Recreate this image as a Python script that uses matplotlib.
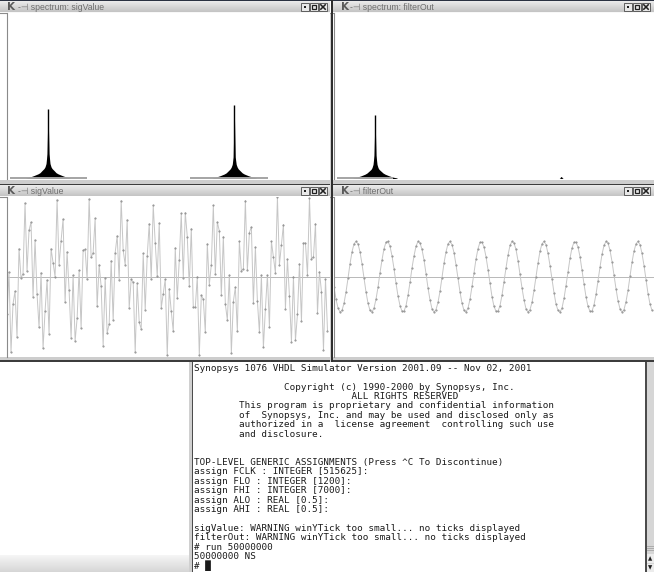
import numpy as np
import matplotlib.pyplot as plt
import matplotlib.colors as mcolors
from matplotlib.patches import Rectangle

W, H = 654, 572

# sigValue samples
sig_value = [
    -0.47, 0.06, -0.94, -0.34, -0.18, -0.75, 0.35, -0.02, 0.04, 0.92,
    0.07, 0.58, 0.68, -0.25, 0.46, -0.22, -0.63, 0.05, -0.89, -0.43,
    -0.04, -0.71, 0.35, 0.17, 0.00, 0.96, 0.15, 0.45, 0.72, -0.32,
    0.31, -0.17, -0.76, 0.02, -0.80, -0.52, 0.08, -0.64, 0.33, 0.34,
    -0.03, 0.97, 0.24, 0.30, 0.73, -0.37, 0.15, -0.12, -0.86, -0.02,
    -0.70, -0.59, 0.20, -0.54, 0.30, 0.51, -0.04, 0.95, 0.33, 0.15,
    0.71, -0.39, -0.03, -0.07, -0.94, -0.08, -0.57, -0.65, 0.29, -0.41,
    0.26, 0.66, -0.03, 0.89, 0.42, 0.01, 0.67, -0.39, -0.21, -0.03,
    -0.98, -0.15, -0.43, -0.68, 0.36, -0.27, 0.21, 0.79, -0.01, 0.80,
    0.50, -0.12, 0.60, -0.38, -0.38, 0.00, -0.98, -0.23, -0.28, -0.69,
    0.41, -0.10, 0.15, 0.89, 0.03, 0.68, 0.57, -0.23, 0.50, -0.34,
    -0.54, 0.02, -0.95, -0.31, -0.13, -0.68, 0.44, 0.07, 0.10, 0.95,
    0.08, 0.55, 0.62, -0.33, 0.37, -0.30, -0.69, 0.02, -0.88, -0.40,
    0.02, -0.63, 0.44, 0.25, 0.05, 0.99, 0.15, 0.40, 0.65, -0.40,
    0.22, -0.24, -0.81, 0.00, -0.79, -0.47, 0.16, -0.55, 0.42, 0.42,
    0.02, 0.98, 0.22, 0.25, 0.66, -0.45, 0.06, -0.19, -0.91, -0.03, -0.67,
]

# filterOut samples
filter_out = [
    -0.13, -0.28, -0.39, -0.44, -0.42, -0.33, -0.19, -0.02, 0.16, 0.31,
    0.41, 0.44, 0.41, 0.31, 0.16, -0.02, -0.19, -0.33, -0.42, -0.44,
    -0.39, -0.28, -0.13, 0.05, 0.21, 0.35, 0.43, 0.44, 0.38, 0.26,
    0.10, -0.08, -0.24, -0.36, -0.43, -0.43, -0.36, -0.23, -0.07, 0.11,
    0.26, 0.38, 0.44, 0.42, 0.34, 0.21, 0.04, -0.14, -0.29, -0.40,
    -0.44, -0.41, -0.32, -0.18, -0.01, 0.17, 0.31, 0.41, 0.44, 0.40,
    0.30, 0.15, -0.02, -0.19, -0.33, -0.42, -0.44, -0.39, -0.28, -0.12,
    0.05, 0.22, 0.35, 0.43, 0.43, 0.37, 0.25, 0.09, -0.08, -0.25,
    -0.37, -0.43, -0.43, -0.36, -0.23, -0.06, 0.11, 0.27, 0.39, 0.44,
    0.42, 0.34, 0.20, 0.03, -0.14, -0.29, -0.40, -0.44, -0.41, -0.32,
    -0.17, 0.00, 0.17, 0.32, 0.41, 0.44, 0.40, 0.29, 0.14, -0.03,
    -0.20, -0.34, -0.42, -0.44, -0.39, -0.27, -0.11, 0.06, 0.23, 0.36,
    0.43, 0.43, 0.37, 0.25, 0.08, -0.09, -0.25, -0.37, -0.43, -0.43,
    -0.35, -0.22, -0.05, 0.12, 0.28, 0.39, 0.44, 0.42, 0.33, 0.19,
    0.02, -0.15, -0.30, -0.40, -0.44, -0.41, -0.31, -0.17, 0.01, 0.18,
    0.32, 0.41, 0.44, 0.40, 0.29, 0.14, -0.04, -0.21, -0.34, -0.42,
]

# spectrum peaks: magnitude at each offset (Hz) either side of the peak
peak_offsets_hz = [0, 31, 62, 94, 125, 187, 250, 312, 437, 562, 686]
sig_peaks_hz = [1200, 7000]
sig_peak_mags = [
    [0.42, 0.15, 0.09, 0.07, 0.06, 0.048, 0.035, 0.028, 0.018, 0.009, 0.003],
    [0.44, 0.13, 0.085, 0.068, 0.058, 0.046, 0.034, 0.027, 0.017, 0.009, 0.003],
]
filt_peaks_hz = [1200, 7000]
filt_peak_mags = [
    [0.38, 0.14, 0.085, 0.065, 0.055, 0.044, 0.033, 0.026, 0.016, 0.008, 0.003],
    [0.012, 0.004, 0, 0, 0, 0, 0, 0, 0, 0, 0],
]
sig_floor_hz = [(0, 2420), (5630, 8060)]
filt_floor_hz = [(0, 1760)]

titles = ['spectrum: sigValue', 'spectrum: filterOut', 'sigValue', 'filterOut']

term_lines = [
    'Synopsys 1076 VHDL Simulator Version 2001.09 -- Nov 02, 2001',
    '',
    '                Copyright (c) 1990-2000 by Synopsys, Inc.',
    '                            ALL RIGHTS RESERVED',
    '        This program is proprietary and confidential information',
    '        of  Synopsys, Inc. and may be used and disclosed only as',
    '        authorized in a  license agreement  controlling such use',
    '        and disclosure.',
    '',
    '',
    'TOP-LEVEL GENERIC ASSIGNMENTS (Press ^C To Discontinue)',
    'assign FCLK : INTEGER [515625]:',
    'assign FLO : INTEGER [1200]:',
    'assign FHI : INTEGER [7000]:',
    'assign ALO : REAL [0.5]:',
    'assign AHI : REAL [0.5]:',
    '',
    'sigValue: WARNING winYTick too small... no ticks displayed',
    'filterOut: WARNING winYTick too small... no ticks displayed',
    '# run 50000000',
    '50000000 NS',
    '# \u2588',
]

fig = plt.figure(figsize=(W / 100, H / 100), dpi=100, facecolor='white')

# full-screen axes in pixel units for the window frames
scr = fig.add_axes([0, 0, 1, 1])
scr.set_xlim(0, W)
scr.set_ylim(H, 0)
scr.axis('off')


def box(x0, y0, x1, y1, color, **kw):
    scr.add_patch(Rectangle((x0, y0), x1 - x0, y1 - y0, facecolor=color,
                            edgecolor='none', **kw))


def vgrad(x0, y0, x1, y1, top, bottom):
    t = np.array(mcolors.to_rgb(top))
    b = np.array(mcolors.to_rgb(bottom))
    c = np.linspace(0, 1, 32)[:, None, None]
    img = t + (b - t) * c
    scr.imshow(img, extent=(x0, x1, y1, y0), aspect='auto',
               interpolation='bilinear')


def title_bar(x0, x1, y0, y1, title, right):
    vgrad(x0, y0, x1, y1, '#efefef', '#c4c4c4')
    scr.plot([x0, x1], [y1, y1], color='#8c8c8c', lw=0.8)
    ym = (y0 + y1) / 2
    scr.text(x0 + 11.5, ym + 0.4, 'K', fontsize=7.5, fontweight='bold',
             color='#5a5a5a', ha='center', va='center', family='DejaVu Sans')
    scr.text(x0 + 17.5, ym + 0.4, '-\u22a3 ' + title, fontsize=6.2,
             color='#6e6e6e', ha='left', va='center',
             family=['Liberation Sans', 'DejaVu Sans'])
    for k in range(3):
        bx = right - 29 + 9 * k
        scr.add_patch(Rectangle((bx, y0 + 2), 8, 8, facecolor='#e8e8e8',
                                edgecolor='#4a4a4a', lw=0.6))
        cx, cy = bx + 4, y0 + 6
        if k == 0:
            box(cx - 1.2, cy - 1.2, cx + 1.2, cy + 1.2, '#202020')
        elif k == 1:
            scr.add_patch(Rectangle((cx - 2.2, cy - 2.2), 4.4, 4.4,
                                    facecolor='none', edgecolor='#202020', lw=0.9))
        else:
            scr.plot([cx - 2.2, cx + 2.2], [cy - 2.2, cy + 2.2], color='#202020', lw=1.1)
            scr.plot([cx - 2.2, cx + 2.2], [cy + 2.2, cy - 2.2], color='#202020', lw=1.1)


# frames
box(0, 0, W, 1, '#2b3242')
for (x0, x1, right), (ti, tm) in zip([(0, 330, 330), (333, W, 653)], [(0, 2), (1, 3)]):
    title_bar(x0, x1, 1, 12.5, titles[ti], right)
    box(x0, 179.5, x1, 183.5, '#cdcdcd')
    box(x0, 183.5, x1, 185, '#3c3c3c')
    title_bar(x0, x1, 185, 196.5, titles[tm], right)
    box(x0, 357, x1, 359.5, '#cdcdcd')
    box(x0, 359.5, x1, 361.5, '#3c3c3c')
box(329.5, 12.5, 331, 361.5, '#cfcfcf')
box(331, 0, 333, 361.5, '#2e2e2e')

# lower left desktop strip and terminal frame
vgrad(0, 555, 189, 572, '#f6f6f6', '#d6d6d6')
box(189, 361.5, 191.5, H, '#d0d0d0')
box(191.5, 361.5, 193, H, '#4c4c4c')
box(645, 361.5, 646.5, H, '#4c4c4c')
box(646.5, 361.5, W, H, '#d6d6d6')
for gy in (546, 548, 550):
    scr.plot([647, W], [gy, gy], color='#a4a4a4', lw=0.6)
for y0, y1, glyph in ((554, 563, '\u25b2'), (564, 572, '\u25bc')):
    box(646.5, y0, W, y1, '#ececec')
    scr.text(650.5, (y0 + y1) / 2, glyph, fontsize=4, ha='center',
             va='center', color='#202020', family='DejaVu Sans')

for i, line in enumerate(term_lines):
    scr.text(194.5, 368.3 + 9.42 * i, line, family='DejaVu Sans Mono',
             fontsize=6.7, ha='left', va='center', color='#1a1a1a')


def px_axes(x0, y0, x1, y1):
    ax = fig.add_axes([x0 / W, 1 - y1 / H, (x1 - x0) / W, (y1 - y0) / H])
    ax.set_facecolor('white')
    for s in ('top', 'right', 'bottom'):
        ax.spines[s].set_visible(False)
    ax.spines['left'].set_color('#8a8a8a')
    ax.spines['left'].set_linewidth(0.8)
    ax.set_xticks([])
    ax.set_yticks([])
    return ax


def spectrum(ax, peaks, mags, floors, xmax):
    off = np.array(peak_offsets_hz)
    for f, m in zip(peaks, mags):
        m = np.array(m)
        xs = np.concatenate([f - off[::-1], f + off[1:]])
        ys = np.concatenate([m[::-1], m[1:]])
        ax.fill_between(xs, ys, color='black', lw=0)
        ax.vlines(f, 0, m[0], color='black', lw=1)
    for a, b in floors:
        ax.hlines(0.006, a, b, color='#a4a4a4', lw=1.4, clip_on=False)
    ax.set_xlim(-78, xmax)
    ax.set_ylim(0, 1)


def waveform(ax, values, xmax):
    n = np.arange(len(values))
    ax.axhline(0, color='#b8b8b8', lw=0.7)
    ax.plot(n, values, color='#c6c6c6', lw=0.7, marker='.', ms=1.0,
            mfc='#8a8a8a', mec='#8a8a8a')
    ax.set_xlim(0, xmax)
    ax.set_ylim(-1, 1)


ax_ss = px_axes(7, 12.5, 329.5, 178.5)
spectrum(ax_ss, sig_peaks_hz, sig_peak_mags, sig_floor_hz, 9968)
ax_fs = px_axes(334, 12.5, W, 178.5)
spectrum(ax_fs, filt_peaks_hz, filt_peak_mags, filt_floor_hz, 9890)
ax_sv = px_axes(7, 196.5, 329.5, 357)
waveform(ax_sv, sig_value, 161)
ax_fo = px_axes(334, 196.5, W, 357)
waveform(ax_fo, filter_out, 160)

scr.set_xlim(0, W)
scr.set_ylim(H, 0)

fig.savefig('out.png', dpi=100, facecolor='white')
